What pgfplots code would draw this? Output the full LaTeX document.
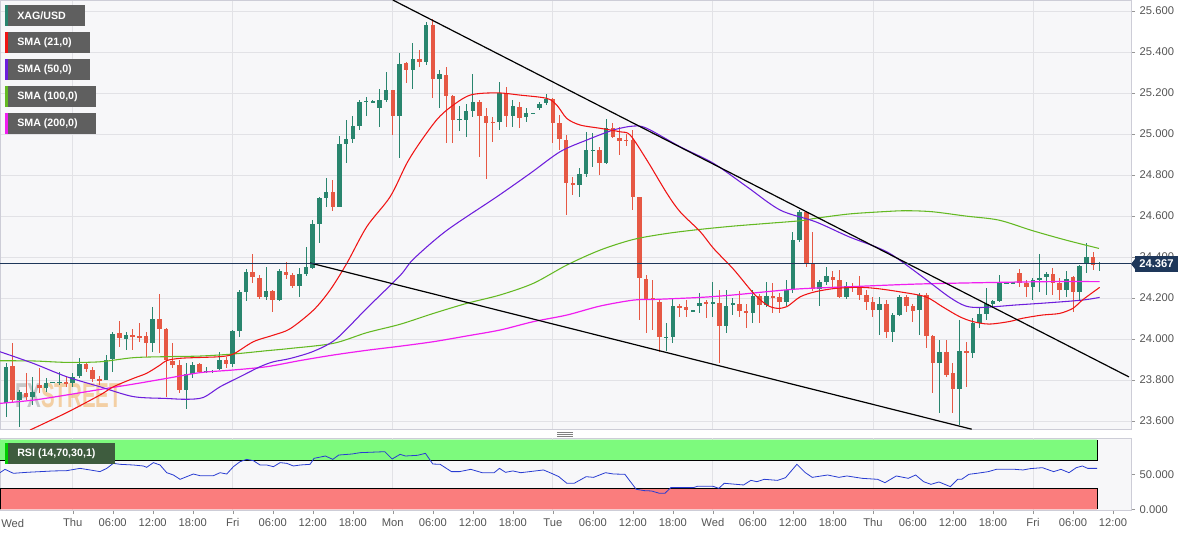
\documentclass[border=0pt]{standalone}
\usepackage{fontspec}
\setmainfont{Liberation Sans}
\usepackage{pgfplots}
\usepackage{pgfplotstable}
\pgfplotsset{compat=1.18}

\definecolor{bull}{RGB}{41,133,110}
\definecolor{bear}{RGB}{230,88,68}
\definecolor{bgcol}{RGB}{247,247,249}
\definecolor{gridcol}{RGB}{226,226,230}
\definecolor{bordercol}{RGB}{205,205,215}
\definecolor{labelgray}{RGB}{85,85,85}
\definecolor{tickgray}{RGB}{150,150,150}
\definecolor{sma21}{RGB}{240,20,20}
\definecolor{sma50}{RGB}{110,30,220}
\definecolor{sma100}{RGB}{100,185,35}
\definecolor{sma200}{RGB}{240,30,240}
\definecolor{navy}{RGB}{30,55,90}
\definecolor{rsiblue}{RGB}{40,60,210}
\definecolor{bandgreen}{RGB}{125,250,125}
\definecolor{bandred}{RGB}{250,125,125}
\definecolor{boxgray}{RGB}{95,95,95}
\definecolor{rsibox}{RGB}{62,92,62}
\definecolor{wmgray}{RGB}{160,160,160}
\definecolor{wmorange}{RGB}{240,175,95}

% hourly candles, h = hours since Thu 00:00
\pgfplotstableread{
h o hi lo c
-10 23.686 23.881 23.621 23.865
-9 23.868 23.979 23.686 23.702
-8 23.702 23.751 23.570 23.743
-7 23.735 23.833 23.702 23.719
-6 23.719 23.816 23.678 23.743
-5 23.776 23.857 23.735 23.759
-4 23.759 23.808 23.743 23.787
-3 23.789 23.792 23.786 23.789
-2 23.789 23.841 23.776 23.792
-1 23.792 23.816 23.767 23.780
0 23.787 23.833 23.767 23.816
1 23.821 23.906 23.808 23.878
2 23.876 23.889 23.841 23.852
3 23.849 23.865 23.792 23.805
4 23.805 23.821 23.776 23.797
5 23.800 23.922 23.798 23.898
6 23.901 24.036 23.841 24.024
7 24.031 24.089 23.963 24.003
8 24.000 24.036 23.946 24.019
9 24.019 24.047 23.946 24.008
10 24.015 24.080 23.987 24.008
11 24.015 24.036 23.914 23.979
12 23.979 24.158 23.938 24.096
13 24.096 24.218 23.930 24.047
14 24.047 24.052 23.719 23.898
15 23.893 23.979 23.857 23.873
16 23.873 23.898 23.735 23.751
17 23.751 23.881 23.658 23.829
18 23.829 23.889 23.808 23.875
19 23.876 23.884 23.833 23.841
20 23.841 23.865 23.833 23.843
21 23.842 23.850 23.836 23.843
22 23.852 23.938 23.849 23.898
23 23.898 23.914 23.857 23.876
24 23.878 24.044 23.865 24.041
25 24.041 24.239 24.008 24.231
26 24.231 24.341 24.187 24.325
27 24.325 24.415 24.272 24.301
28 24.299 24.310 24.195 24.203
29 24.203 24.349 24.190 24.234
30 24.234 24.240 24.133 24.190
31 24.190 24.340 24.187 24.332
32 24.328 24.377 24.291 24.312
33 24.312 24.324 24.247 24.259
34 24.259 24.345 24.203 24.317
35 24.317 24.447 24.307 24.350
36 24.345 24.580 24.340 24.561
37 24.561 24.694 24.470 24.686
38 24.686 24.784 24.646 24.715
39 24.715 24.776 24.626 24.646
40 24.646 24.990 24.642 24.951
41 24.951 25.068 24.857 24.974
42 24.974 25.088 24.954 25.041
43 25.041 25.166 25.020 25.158
44 25.158 25.182 25.088 25.160
45 25.158 25.165 25.150 25.158
46 25.125 25.218 25.036 25.166
47 25.166 25.304 25.158 25.215
48 25.215 25.215 24.995 25.088
49 25.088 25.394 24.881 25.341
50 25.345 25.353 25.247 25.312
51 25.312 25.442 25.218 25.364
52 25.364 25.410 25.329 25.351
53 25.351 25.548 25.337 25.532
54 25.532 25.559 25.174 25.267
55 25.267 25.312 25.125 25.293
56 25.288 25.329 24.954 25.185
57 25.185 25.190 24.954 25.068
58 25.072 25.136 25.016 25.072
59 25.068 25.149 24.987 25.112
60 25.112 25.293 25.085 25.158
61 25.158 25.166 24.889 25.088
62 25.088 25.125 24.779 25.055
63 25.060 25.085 24.963 25.058
64 25.060 25.255 25.020 25.198
65 25.198 25.231 25.036 25.088
66 25.088 25.166 25.033 25.136
67 25.133 25.158 25.028 25.076
68 25.085 25.125 25.060 25.104
69 25.101 25.105 25.098 25.101
70 25.125 25.158 25.117 25.145
71 25.150 25.195 25.141 25.169
72 25.169 25.174 24.954 25.055
73 25.052 25.093 24.922 24.974
74 24.971 24.995 24.605 24.759
75 24.759 24.792 24.702 24.751
76 24.751 24.833 24.694 24.805
77 24.805 25.011 24.792 24.922
78 24.920 25.003 24.841 24.922
79 24.922 24.938 24.800 24.860
80 24.860 25.072 24.854 25.028
81 25.028 25.055 24.979 24.987
82 24.982 25.036 24.897 24.967
83 24.971 25.000 24.940 24.967
84 24.971 25.020 24.629 24.694
85 24.694 24.694 24.093 24.296
86 24.291 24.312 24.028 24.193
87 24.198 24.288 24.044 24.190
88 24.182 24.190 23.938 24.011
89 24.008 24.080 23.943 24.008
90 24.011 24.193 23.979 24.161
91 24.161 24.171 24.109 24.154
92 24.158 24.190 24.106 24.141
93 24.138 24.142 24.134 24.138
94 24.161 24.223 24.125 24.177
95 24.182 24.190 24.101 24.174
96 24.177 24.280 24.109 24.179
97 24.177 24.239 23.881 24.063
98 24.063 24.239 24.028 24.161
99 24.166 24.198 24.117 24.174
100 24.171 24.236 24.109 24.138
101 24.138 24.171 24.052 24.128
102 24.128 24.239 24.080 24.210
103 24.210 24.220 24.080 24.166
104 24.166 24.280 24.158 24.210
105 24.210 24.275 24.125 24.203
106 24.203 24.223 24.125 24.182
107 24.182 24.288 24.161 24.239
108 24.239 24.524 24.226 24.483
109 24.483 24.629 24.475 24.621
110 24.621 24.626 24.353 24.369
111 24.369 24.524 24.236 24.242
112 24.242 24.290 24.160 24.280
113 24.280 24.353 24.262 24.307
114 24.304 24.330 24.250 24.288
115 24.288 24.337 24.198 24.206
116 24.206 24.280 24.195 24.258
117 24.258 24.275 24.230 24.250
118 24.258 24.307 24.190 24.215
119 24.215 24.239 24.141 24.182
120 24.182 24.206 24.109 24.141
121 24.141 24.206 24.020 24.171
122 24.171 24.190 24.003 24.036
123 24.036 24.128 23.987 24.117
124 24.117 24.215 24.110 24.206
125 24.206 24.215 24.133 24.161
126 24.161 24.171 24.085 24.138
127 24.141 24.223 24.020 24.215
128 24.215 24.223 23.954 24.015
129 24.015 24.020 23.735 23.885
130 23.885 23.995 23.637 23.938
131 23.938 23.995 23.816 23.824
132 23.833 23.881 23.637 23.754
133 23.754 24.093 23.580 23.943
134 23.943 23.987 23.767 23.930
135 23.933 24.101 23.906 24.080
136 24.080 24.150 24.052 24.122
137 24.122 24.247 24.093 24.171
138 24.171 24.190 24.150 24.187
139 24.187 24.312 24.182 24.275
140 24.275 24.280 24.270 24.275
141 24.275 24.280 24.270 24.275
142 24.320 24.340 24.255 24.272
143 24.272 24.288 24.206 24.252
144 24.252 24.296 24.190 24.288
145 24.288 24.415 24.231 24.296
146 24.301 24.328 24.215 24.317
147 24.317 24.348 24.215 24.272
148 24.272 24.296 24.190 24.239
149 24.239 24.333 24.206 24.293
150 24.301 24.307 24.133 24.231
151 24.231 24.361 24.190 24.356
152 24.366 24.470 24.320 24.402
153 24.402 24.426 24.337 24.361
154 24.366 24.377 24.333 24.372
}\candles

\pgfplotsset{
  panel/.style={
    scale only axis, width=848.25pt,
    xmin=-10.9, xmax=158.7,
    axis background/.style={fill=bgcol},
    axis line style={draw=bordercol},
    tick label style={font=\fontsize{8.4}{10}\selectfont, text=labelgray},
    tick style={draw=tickgray},
    grid style={draw=gridcol, line width=0.6pt},
    tick align=outside, major tick length=3pt,
    ytick pos=right, yticklabel pos=right,
    /pgf/number format/fixed, /pgf/number format/fixed zerofill,
    /pgf/number format/precision=3, /pgf/number format/assume math mode=true,
    /pgf/number format/1000 sep={},
  },
  wick/.style={draw=none, no markers, forget plot,
    error bars/.cd, y dir=both, y explicit, error mark=none,
    error bar style={line width=0.75pt, draw=#1}},
  body/.style={draw=none, no markers, forget plot,
    error bars/.cd, y dir=both, y explicit, error mark=none,
    error bar style={line width=3.4pt, draw=#1}},
}

\newcommand\lbox[5]{%
  \fill[boxgray] (5,#1) rectangle (#2,#3);
  \fill[#4] (5,#1) rectangle (7.5,#3);
  \node[anchor=west, text=white, inner sep=0pt,
        font=\fontsize{8}{9}\selectfont\bfseries] at (17,{(#1+#3)/2}) {#5};}

\begin{document}
\begin{tikzpicture}
\path[use as bounding box] (0,0) rectangle (895.5pt,-402pt);

% price panel
\begin{axis}[panel, at={(0pt,0pt)}, anchor=north west, height=321.75pt,
  ymin=23.561, ymax=25.654,
  ytick={23.6,23.8,24.0,24.2,24.4,24.6,24.8,25.0,25.2,25.4,25.6},
  ymajorgrids,
  xtick={0,24,48,72,96,120,144}, xticklabels={}, xmajorgrids,
  xtick style={draw=none},
]
\node[anchor=west, opacity=0.55, xscale=0.59, inner sep=0pt,
      font=\fontsize{26}{26}\selectfont\bfseries]
  at (axis cs:-8.65,23.722) {\textcolor{wmgray}{FX}\textcolor{wmorange}{STREET}};

\addplot[wick=bull] table[x=h,
  y expr={\thisrow{c}<\thisrow{o} ? nan : 0.5*(\thisrow{hi}+\thisrow{lo})},
  y error expr={0.5*(\thisrow{hi}-\thisrow{lo})}] {\candles};
\addplot[wick=bear] table[x=h,
  y expr={\thisrow{c}<\thisrow{o} ? 0.5*(\thisrow{hi}+\thisrow{lo}) : nan},
  y error expr={0.5*(\thisrow{hi}-\thisrow{lo})}] {\candles};
\addplot[body=bull] table[x=h,
  y expr={\thisrow{c}<\thisrow{o} ? nan : 0.5*(\thisrow{o}+\thisrow{c})},
  y error expr={max(0.5*abs(\thisrow{c}-\thisrow{o}),0.0015)}] {\candles};
\addplot[body=bear] table[x=h,
  y expr={\thisrow{c}<\thisrow{o} ? 0.5*(\thisrow{o}+\thisrow{c}) : nan},
  y error expr={max(0.5*abs(\thisrow{c}-\thisrow{o}),0.0015)}] {\candles};

% SMA 200
\addplot[sma200, line width=0.9pt, smooth] coordinates {
(-10.9,23.686) (-5.9,23.702) (-0.9,23.727) (4.1,23.754) (9.1,23.78) (14.1,23.808)
(19.1,23.836) (24.1,23.849) (29.1,23.865) (34.1,23.895) (39.1,23.922) (44.1,23.945)
(49.1,23.965) (54.1,23.987) (59.1,24.015) (64.1,24.044) (69.1,24.085) (74.1,24.117)
(79.1,24.161) (84.1,24.190) (87.1,24.193) (94.1,24.203) (99.1,24.215) (104.1,24.231)
(109.1,24.245) (116.4,24.255) (126.4,24.268) (136.4,24.275) (146.4,24.280) (154,24.280)};
% SMA 100
\addplot[sma100, line width=0.8pt, smooth] coordinates {
(-10.9,23.894) (-5.9,23.893) (-0.9,23.886) (4.1,23.889) (9.1,23.909) (14.1,23.914)
(19.1,23.917) (24.1,23.927) (29.1,23.943) (32.6,23.954) (39.1,23.979) (44.1,24.031)
(49.1,24.072) (54.1,24.125) (59.1,24.174) (64.1,24.215) (69.1,24.272) (74.1,24.361)
(79.1,24.434) (84.1,24.486) (89.1,24.515) (94.1,24.535) (99.1,24.551) (104.1,24.564)
(109.1,24.577) (111.4,24.589) (116.4,24.610) (121.4,24.621) (124.9,24.626) (128.9,24.621)
(133.9,24.600) (138.9,24.580) (143.9,24.529) (148.9,24.483) (153.9,24.442)};
% SMA 50
\addplot[sma50, line width=0.8pt, smooth] coordinates {
(-10.9,23.938) (-5.9,23.881) (-0.9,23.816) (4.1,23.767) (9.1,23.719) (14.1,23.710)
(17.1,23.706) (19.6,23.715) (22.1,23.767) (25.1,23.816) (28.1,23.865) (30.1,23.889)
(32.6,23.905) (36.1,23.94) (39.5,24.00) (44.1,24.15) (49.1,24.31) (51.1,24.39)
(56.1,24.53) (63.6,24.694) (68.6,24.808) (73.1,24.914) (77.1,24.971) (81.1,25.02)
(84.1,25.039) (86.1,25.028) (91.1,24.938) (96.1,24.857) (101.1,24.743) (106.1,24.629)
(111.4,24.572) (116.4,24.499) (120.4,24.45) (122.9,24.41) (127.4,24.304) (131.4,24.206)
(133.9,24.161) (136.4,24.154) (141.4,24.166) (146.4,24.177) (151.4,24.19) (154,24.203)};
% SMA 21
\addplot[sma21, line width=0.8pt, smooth] coordinates {
(-6.4,23.556) (-0.9,23.641) (4.1,23.727) (6.1,23.767) (9.1,23.808) (11.1,23.833)
(13.1,23.873) (14.1,23.895) (16.1,23.906) (19.1,23.910) (22.1,23.914) (24.1,23.927)
(27.1,23.987) (30.1,24.019) (32.6,24.05) (36.1,24.141) (38.6,24.239) (41.1,24.369)
(44.1,24.548) (47.6,24.694) (50.1,24.857) (52.1,24.96) (54.6,25.07) (56.6,25.13)
(59.6,25.19) (63.6,25.201) (67.1,25.19) (71.1,25.174) (72.6,25.141) (74.1,25.076)
(76.1,25.044) (79.1,25.028) (82.1,25.011) (83.6,24.995) (86.1,24.873) (89.1,24.711)
(91.1,24.62) (94.1,24.524) (96.1,24.442) (99.1,24.34) (102.1,24.223) (104.1,24.166)
(105.6,24.150) (107.1,24.158) (109.1,24.206) (111.4,24.231) (114.4,24.247) (117.9,24.252)
(120.4,24.247) (123.9,24.231) (127.9,24.206) (130.4,24.158) (133,24.109) (135,24.085)
(137.4,24.073) (140.4,24.085) (142.4,24.101) (145.4,24.117) (148,24.125) (150,24.15)
(151.4,24.19) (154,24.252)};

% trend lines
\addplot[black, line width=0.9pt] coordinates {(48,25.654) (158.4,23.815)};
\addplot[black, line width=0.9pt] coordinates {(35.6,24.371) (134.8,23.560)};
% last price
\addplot[navy, line width=0.8pt] coordinates {(-10.9,24.367) (158.7,24.367)};
\end{axis}

% RSI panel
\begin{axis}[panel, at={(0pt,-328.5pt)}, anchor=north west, height=54pt,
  ymin=-0.9, ymax=102.3, ytick={0,50},
  xtick={0,6,...,156}, xtick pos=bottom,
  xticklabels={Thu,06:00,12:00,18:00,Fri,06:00,12:00,18:00,Mon,06:00,12:00,18:00,
    Tue,06:00,12:00,18:00,Wed,06:00,12:00,18:00,Thu,06:00,12:00,18:00,Fri,06:00,12:00},
  extra x ticks={0,24,48,72,96,120,144}, extra x tick labels={},
  extra x tick style={xmajorgrids=true, tick style={draw=none}},
]
\addplot[fill=bandgreen, draw=none, forget plot] coordinates
  {(-10.9,70) (153.6,70) (153.6,100) (-10.9,100)} \closedcycle;
\addplot[fill=bandred, draw=none, forget plot] coordinates
  {(-10.9,0) (153.6,0) (153.6,30) (-10.9,30)} \closedcycle;
\addplot[black, line width=0.5pt] coordinates {(-10.9,70) (153.6,70) (153.6,100)};
\addplot[black, line width=0.5pt] coordinates {(-10.9,0) (-10.9,30) (153.6,30) (153.6,0)};
\addplot[rsiblue, line width=0.6pt] coordinates {
(-10.9,52.6) (-10.15,57.4) (-8.9,51.7) (-6.9,53.1) (-4.9,54.1) (-2.9,55.1) (-0.9,55.5)
(1.1,58.8) (2.6,56.5) (4.1,54.1) (5.1,58.8) (6.1,66.0) (7.1,64.6) (9.1,63.6) (10.6,62.2)
(11.1,60.3) (12.1,67.0) (13.1,63.6) (14.1,52.6) (15.1,49.3) (16.1,43.1) (17.1,46.9)
(18.1,50.7) (19.1,48.3) (21.1,48.3) (22.1,52.6) (23.1,50.7) (24.1,61.2) (25.1,68.4)
(26.1,71.7) (27.1,69.8) (28.1,63.6) (29.1,63.6) (30.1,61.2) (31.1,67.0) (32.1,66.0)
(33.1,62.2) (34.1,63.6) (35.6,64.6) (36.2,73.2) (37.9,76.5) (39.0,71.7) (39.9,77.9)
(41.9,79.4) (43.1,81.3) (46.8,82.7) (47.9,72.2) (49.1,78.9) (49.9,76.5) (51.7,77.5)
(52.9,80.3) (54.0,65.0) (55.1,64.6) (56.8,54.1) (58.0,54.1) (59.7,57.4) (61.4,52.6)
(63.2,52.6) (64.0,58.8) (64.9,53.1) (66.0,55.1) (67.2,52.6) (70.6,56.5) (71.8,51.7)
(72.9,46.9) (74.1,37.4) (75.2,37.4) (77.0,46.9) (78.1,45.9) (79.9,52.6) (81.1,50.7)
(82.8,50.3) (84.5,28.8) (85.7,26.9) (86.8,26.4) (88.0,23.0) (88.8,23.0) (89.7,31.2)
(93.1,31.2) (93.7,33.1) (96.0,33.1) (96.9,30.2) (97.7,37.4) (100.6,35.0) (101.7,41.6)
(102.6,39.7) (103.7,43.1) (105.7,41.6) (106.9,45.5) (108.6,64.6) (109.8,53.1) (110.9,45.9)
(113.2,49.3) (114.9,45.9) (116.1,47.9) (118.4,44.5) (120.7,43.1) (121.8,38.3) (123.5,47.9)
(125.3,44.5) (126.4,49.3) (127.6,39.7) (128.7,35.9) (129.9,39.3) (131.6,32.6) (132.7,43.1)
(133.3,43.1) (134.4,50.3) (135.6,51.7) (137.3,54.1) (138.5,57.4) (141.3,57.4) (142.5,56.5)
(143.6,58.4) (145.4,59.8) (147.1,54.1) (148.2,57.4) (149.4,52.6) (150.5,59.8) (151.4,62.2)
(152.2,58.8) (153.6,58.8)};
\end{axis}

% labels in pixel units (y downwards)
\begin{scope}[x=0.75pt, y=-0.75pt]
\lbox{5}{85}{26}{bull}{XAG/USD}
\lbox{32}{90}{53}{sma21}{SMA (21,0)}
\lbox{59}{90}{80}{sma50}{SMA (50,0)}
\lbox{86}{96}{107}{sma100}{SMA (100,0)}
\lbox{113}{96}{134}{sma200}{SMA (200,0)}
% last price tag
\fill[navy] (1131,264) -- (1135,259) -- (1135,269) -- cycle;
\node[fill=navy, text=white, inner sep=0pt, minimum width=32.25pt, minimum height=12pt,
      font=\fontsize{8.4}{10}\selectfont\bfseries] at (1156.5,264) {24.367};
% RSI tag
\fill[rsibox] (5,443) rectangle (115,464);
\fill[green!80!black] (5,443) rectangle (8,464);
\node[anchor=west, text=white, inner sep=0pt,
      font=\fontsize{8}{9}\selectfont\bfseries] at (17,453.5) {RSI (14,70,30,1)};
% first day label
\node[anchor=west, inner sep=0pt, text=labelgray,
      font=\fontsize{8.4}{10}\selectfont] at (1,523) {Wed};
% panel splitter
\foreach \yy in {432,434,436} \draw[gray, line width=0.5pt] (557,\yy) -- (573,\yy);
\end{scope}
\end{tikzpicture}
\end{document}
